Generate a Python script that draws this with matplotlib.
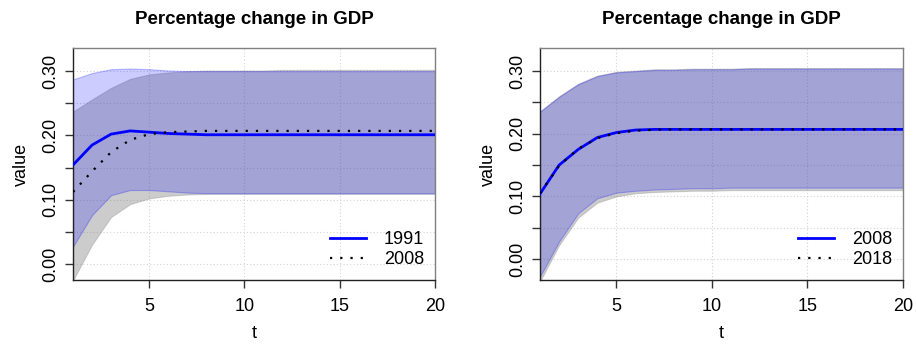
import numpy as np
import matplotlib.pyplot as plt

plt.rcParams['font.family'] = ['Liberation Sans', 'DejaVu Sans']

t = np.arange(1, 21)

# left panel: 1991 vs 2008
gdp_1991 = [0.154, 0.185, 0.202, 0.207, 0.205, 0.203, 0.202, 0.201, 0.201, 0.201,
            0.201, 0.201, 0.201, 0.201, 0.201, 0.201, 0.201, 0.201, 0.201, 0.201]
lo_1991 = [0.027, 0.076, 0.107, 0.115, 0.115, 0.113, 0.111, 0.110, 0.110, 0.110,
           0.110, 0.110, 0.110, 0.110, 0.110, 0.110, 0.110, 0.110, 0.110, 0.110]
hi_1991 = [0.287, 0.297, 0.303, 0.304, 0.303, 0.301, 0.300, 0.300, 0.300, 0.300,
           0.300, 0.300, 0.300, 0.300, 0.300, 0.300, 0.300, 0.300, 0.300, 0.300]
gdp_2008a = [0.112, 0.144, 0.174, 0.193, 0.202, 0.205, 0.206, 0.207, 0.207, 0.207,
             0.207, 0.207, 0.207, 0.207, 0.207, 0.207, 0.207, 0.207, 0.207, 0.207]
lo_2008a = [-0.026, 0.030, 0.073, 0.093, 0.102, 0.106, 0.108, 0.109, 0.109, 0.109,
            0.109, 0.109, 0.109, 0.109, 0.109, 0.109, 0.109, 0.109, 0.109, 0.109]
hi_2008a = [0.237, 0.256, 0.274, 0.288, 0.295, 0.298, 0.300, 0.301, 0.301, 0.301,
            0.301, 0.302, 0.302, 0.302, 0.302, 0.302, 0.302, 0.302, 0.302, 0.302]

# right panel: 2008 vs 2018
gdp_2008b = [0.104, 0.150, 0.175, 0.194, 0.202, 0.206, 0.207, 0.207, 0.207, 0.207,
             0.207, 0.207, 0.207, 0.207, 0.207, 0.207, 0.207, 0.207, 0.207, 0.207]
lo_2008b = [-0.028, 0.028, 0.073, 0.097, 0.106, 0.109, 0.111, 0.112, 0.113, 0.113,
            0.114, 0.114, 0.114, 0.114, 0.114, 0.114, 0.114, 0.114, 0.114, 0.114]
hi_2008b = [0.235, 0.259, 0.279, 0.292, 0.298, 0.300, 0.302, 0.302, 0.303, 0.303,
            0.303, 0.304, 0.304, 0.304, 0.304, 0.304, 0.304, 0.304, 0.304, 0.304]
gdp_2018 = [0.105, 0.149, 0.176, 0.193, 0.201, 0.205, 0.2065, 0.207, 0.207, 0.207,
            0.207, 0.207, 0.207, 0.207, 0.207, 0.207, 0.207, 0.207, 0.207, 0.207]
lo_2018 = [-0.036, 0.022, 0.066, 0.090, 0.100, 0.105, 0.107, 0.108, 0.109, 0.109,
           0.110, 0.110, 0.110, 0.110, 0.110, 0.110, 0.110, 0.110, 0.110, 0.110]
hi_2018 = [0.236, 0.260, 0.280, 0.293, 0.299, 0.301, 0.303, 0.303, 0.304, 0.304,
           0.304, 0.305, 0.305, 0.305, 0.305, 0.305, 0.305, 0.305, 0.305, 0.305]

panels = [
    dict(solid=(gdp_1991, lo_1991, hi_1991, '1991'),
         dotted=(gdp_2008a, lo_2008a, hi_2008a, '2008'),
         ylim=(-0.025, 0.336), rect=[0.0797, 0.1884, 0.3952, 0.6725]),
    dict(solid=(gdp_2008b, lo_2008b, hi_2008b, '2008'),
         dotted=(gdp_2018, lo_2018, hi_2018, '2018'),
         ylim=(-0.0335, 0.337), rect=[0.5895, 0.1884, 0.3963, 0.6725]),
]

fig = plt.figure(figsize=(9.16, 3.45), dpi=100)

for p in panels:
    ax = fig.add_axes(p['rect'])
    y1, l1, h1, lab1 = p['solid']
    y2, l2, h2, lab2 = p['dotted']

    # grid under the bands
    for gx in [5, 10, 15, 20]:
        ax.axvline(gx, color='#d3d3d3', lw=0.8, ls=(0, (1, 2)), zorder=0)
    for gy in np.arange(0, 0.31, 0.05):
        ax.axhline(gy, color='#d3d3d3', lw=0.8, ls=(0, (1, 2)), zorder=0)

    ax.fill_between(t, l2, h2, facecolor=(0.5, 0.5, 0.5, 0.4),
                    edgecolor=(0.5, 0.5, 0.5, 0.3), lw=0.8, zorder=1)
    ax.fill_between(t, l1, h1, facecolor=(0, 0, 1, 0.2),
                    edgecolor=(0, 0, 1, 0.25), lw=0.8, zorder=2)

    ax.plot(t, y1, color='blue', lw=2, label=lab1, zorder=3)
    ax.plot(t, y2, color='black', lw=1.6, ls=(0, (1, 3.6)), label=lab2, zorder=4)

    ax.set_xlim(1, 20)
    ax.set_ylim(*p['ylim'])
    ax.set_xticks([5, 10, 15, 20])
    ax.set_yticks(np.arange(0, 0.31, 0.05))
    ax.set_yticklabels(['0.00', '', '0.10', '', '0.20', '', '0.30'],
                       rotation=90, va='center')
    ax.tick_params(axis='both', labelsize=13, length=6, width=1,
                   color='#333333', direction='out')
    ax.tick_params(axis='x', pad=7)
    ax.tick_params(axis='y', pad=4)

    for s in ['top', 'right']:
        ax.spines[s].set_color('#808080')
    for s in ['left', 'bottom']:
        ax.spines[s].set_color('#222222')
    for s in ax.spines.values():
        s.set_linewidth(1)

    ax.set_title('Percentage change in GDP', fontsize=13.5, fontweight='bold', pad=17)
    ax.set_xlabel('t', fontsize=13, labelpad=7)
    ax.set_ylabel('value', fontsize=13, labelpad=9)

    leg = ax.legend(loc='lower right', frameon=False, fontsize=13, handlelength=2.0,
                    handletextpad=1.0, labelspacing=0.15, borderaxespad=0,
                    bbox_to_anchor=(0.99, 0.02))

fig.savefig('out.png', dpi=100)
